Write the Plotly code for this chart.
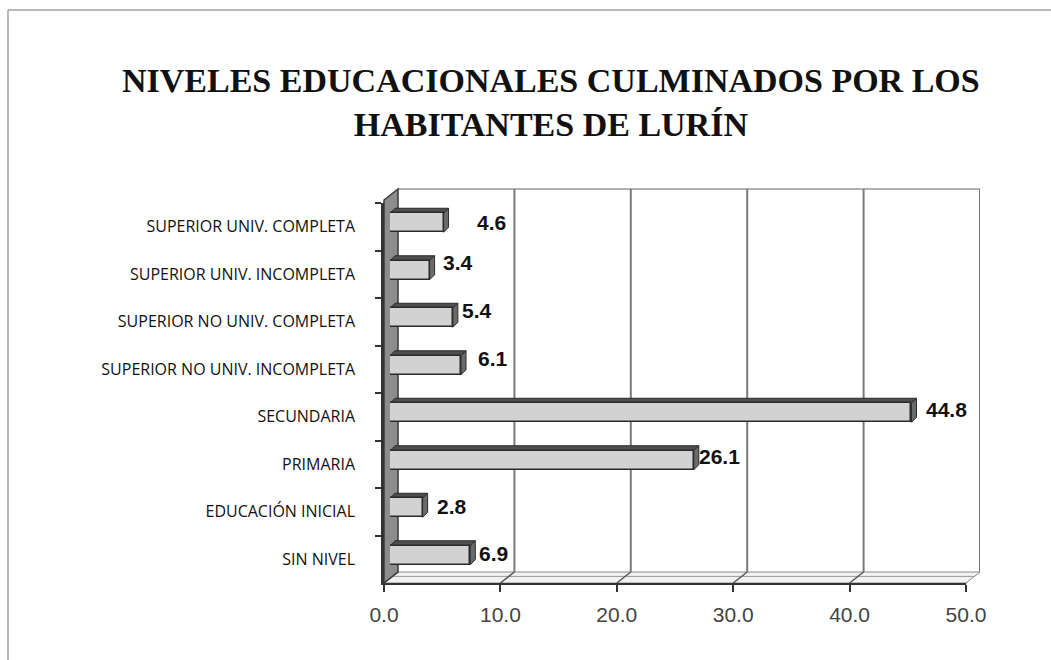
import plotly.graph_objects as go

# Education levels (bottom to top) and share of inhabitants, in %
categories = [
    "SIN NIVEL",
    "EDUCACIÓN INICIAL",
    "PRIMARIA",
    "SECUNDARIA",
    "SUPERIOR NO UNIV. INCOMPLETA",
    "SUPERIOR NO UNIV. COMPLETA",
    "SUPERIOR UNIV. INCOMPLETA",
    "SUPERIOR UNIV. COMPLETA",
]
values = [6.9, 2.8, 26.1, 44.8, 6.1, 5.4, 3.4, 4.6]

x_ticks = [0, 10, 20, 30, 40, 50]

# label nudges in pixels (style only)
label_dx = [6.7, 12.4, 3.0, 12.5, 15.0, 7.0, 11.4, 31.5]
label_dy = [2.2, 0.8, 4.2, 2.8, 7.2, 6.8, 8.2, -0.2]

W, H = 1051, 660


def fx(px):
    return px / W


def fy(py):
    return 1 - py / H


# pixel geometry of the pseudo-3D box
FX0, FX1 = 384, 966        # front plane, x = 0 .. 50
FY0, FY1 = 583, 203        # front plane, bottom .. top
DX, DY = 14, -11           # depth offset of the back wall
BX, BY = 6, -4             # bar front faces sit slightly inside
TX, TY = 5, 5              # bar thickness (top / side faces), px
BACK_TOP = 189
BAR_W = 0.4

# pixel -> data unit factors on the bar axes
KX = 50 / (FX1 - FX0)
KY = len(categories) / (FY0 - FY1)

fig = go.Figure()

# invisible carrier for the back-wall subplot
fig.add_trace(go.Scatter(
    x=values, y=categories, mode="markers",
    marker=dict(opacity=0), hoverinfo="skip", showlegend=False,
    xaxis="x", yaxis="y",
))

# invisible carrier so the front category axis gets its labels
fig.add_trace(go.Scatter(
    x=values, y=categories, mode="markers",
    marker=dict(opacity=0), hoverinfo="skip", showlegend=False,
    xaxis="x2", yaxis="y2",
))

# front faces of the bars
fig.add_trace(go.Bar(
    x=values, y=categories, orientation="h", width=BAR_W,
    marker=dict(color="#d2d2d2", line=dict(color="#2b2b2b", width=1.5)),
    showlegend=False,
    xaxis="x4", yaxis="y4",
))

cat_axis = dict(type="category", categoryorder="array",
                categoryarray=categories, range=[-0.5, len(categories) - 0.5])
hidden = dict(visible=False, showgrid=False, zeroline=False,
              automargin=False, fixedrange=True)

fig.update_layout(
    template="none",
    width=W, height=H,
    margin=dict(l=0, r=0, t=0, b=0, pad=0),
    paper_bgcolor="white", plot_bgcolor="rgba(0,0,0,0)",
    bargap=0,
    # back wall (its grid is drawn as shapes below)
    xaxis=dict(domain=[fx(FX0 + DX), fx(FX1 + DX)], range=[0, 50],
               anchor="y", **hidden),
    yaxis=dict(domain=[fy(FY0 + DY), fy(BACK_TOP)], **cat_axis, **hidden,
               anchor="x"),
    # front plane: value axis and category axis
    xaxis2=dict(
        domain=[fx(FX0), fx(FX1)], range=[0, 50],
        tickvals=x_ticks, ticktext=[f"{t:.1f}" for t in x_ticks],
        ticks="outside", ticklen=7, tickwidth=1.5, tickcolor="#333333",
        showline=True, linecolor="#333333", linewidth=2,
        showgrid=False, zeroline=False, automargin=False,
        ticklabelstandoff=5,
        tickfont=dict(family="Liberation Sans", size=21, color="#444444"),
        anchor="y2", fixedrange=True,
    ),
    yaxis2=dict(
        domain=[fy(FY0), fy(FY1)], **cat_axis,
        tickson="boundaries", ticks="outside", ticklen=6, tickwidth=1.5,
        tickcolor="#333333", showline=True, linecolor="#333333", linewidth=2.5,
        showgrid=False, zeroline=False, ticklabelstandoff=23, automargin=False,
        tickfont=dict(family="Open Sans", size=16, color="#111111"),
        anchor="x2", fixedrange=True,
    ),
    # bar axes
    xaxis4=dict(domain=[fx(FX0 + BX), fx(FX1 + BX)], range=[0, 50],
                anchor="y4", **hidden),
    yaxis4=dict(domain=[fy(FY0 + BY), fy(FY1 + BY)], **cat_axis, **hidden,
                anchor="x4"),
)

shapes = []
# floor
shapes.append(dict(
    type="path", xref="paper", yref="paper", layer="below",
    path=(f"M {fx(FX0)},{fy(FY0)} L {fx(FX1)},{fy(FY0)} "
          f"L {fx(FX1 + DX)},{fy(FY0 + DY)} L {fx(FX0 + DX)},{fy(FY0 + DY)} Z"),
    fillcolor="#f2f2f2", line=dict(color="#8a8a8a", width=1),
))
shapes.append(dict(
    type="line", xref="paper", yref="paper", layer="below",
    x0=fx(FX0 + DX * 0.6), x1=fx(FX1 + DX * 0.6),
    y0=fy(FY0 + DY * 0.6), y1=fy(FY0 + DY * 0.6),
    line=dict(color="#9a9a9a", width=1),
))
# floor edges at each tick
for t in x_ticks:
    shapes.append(dict(
        type="line", xref="x2", yref="paper", xsizemode="pixel", xanchor=t,
        x0=0, x1=DX, y0=fy(FY0), y1=fy(FY0 + DY),
        line=dict(color="#555555", width=1.5), layer="below",
    ))
# back wall top edge
shapes.append(dict(
    type="line", xref="paper", yref="paper", layer="below",
    x0=fx(FX0 + DX), x1=fx(FX1 + DX), y0=fy(BACK_TOP), y1=fy(BACK_TOP),
    line=dict(color="#b0b0b0", width=2),
))
# vertical grid on the back wall
for t in x_ticks[1:]:
    shapes.append(dict(
        type="line", xref="x", yref="paper", x0=t, x1=t,
        y0=fy(FY0 + DY), y1=fy(BACK_TOP),
        line=dict(color="#7a7a7a", width=2), layer="below",
    ))
# left side wall
shapes.append(dict(
    type="path", xref="paper", yref="paper", layer="below",
    path=(f"M {fx(FX0)},{fy(FY0)} L {fx(FX0 + DX)},{fy(FY0 + DY)} "
          f"L {fx(FX0 + DX)},{fy(BACK_TOP)} L {fx(FX0)},{fy(BACK_TOP - DY)} Z"),
    fillcolor="#8c8c8c", line=dict(color="#3a3a3a", width=1.5),
))

# top and side faces of each bar, behind its front face
tx, ty, hw = TX * KX, TY * KY, BAR_W / 2
for i, v in enumerate(values):
    top = i + hw
    bot = i - hw
    shapes.append(dict(
        type="path", xref="x4", yref="y4", layer="below",
        path=(f"M 0,{top} L {tx},{top + ty} L {v + tx},{top + ty} "
              f"L {v},{top} Z"),
        fillcolor="#4f4f4f", line=dict(color="#2b2b2b", width=1),
    ))
    shapes.append(dict(
        type="path", xref="x4", yref="y4", layer="below",
        path=(f"M {v},{top} L {v + tx},{top + ty} L {v + tx},{bot + ty} "
              f"L {v},{bot} Z"),
        fillcolor="#6a6a6a", line=dict(color="#2b2b2b", width=1),
    ))

# outer frame
shapes.append(dict(type="line", xref="paper", yref="paper",
                   x0=fx(8), x1=1, y0=fy(10), y1=fy(10),
                   line=dict(color="#a0a0a0", width=1.5)))
shapes.append(dict(type="line", xref="paper", yref="paper",
                   x0=fx(8), x1=fx(8), y0=fy(10), y1=0,
                   line=dict(color="#a0a0a0", width=1.5)))
fig.update_layout(shapes=shapes)

annotations = [dict(
    text="<b>NIVELES EDUCACIONALES CULMINADOS POR LOS<br>HABITANTES DE LURÍN</b>",
    xref="paper", yref="paper", x=fx(551), y=fy(103),
    xanchor="center", yanchor="middle", showarrow=False,
    font=dict(family="Liberation Serif", size=34, color="#111111"),
)]
for c, v, dx, dy in zip(categories, values, label_dx, label_dy):
    annotations.append(dict(
        text=f"<b>{v:.1f}</b>", xref="x4", yref="y4", x=v, y=c,
        xanchor="left", yanchor="middle", showarrow=False,
        xshift=dx, yshift=dy,
        font=dict(family="Liberation Sans", size=21, color="#111111"),
    ))
fig.update_layout(annotations=annotations)

fig.write_html("out.html")
